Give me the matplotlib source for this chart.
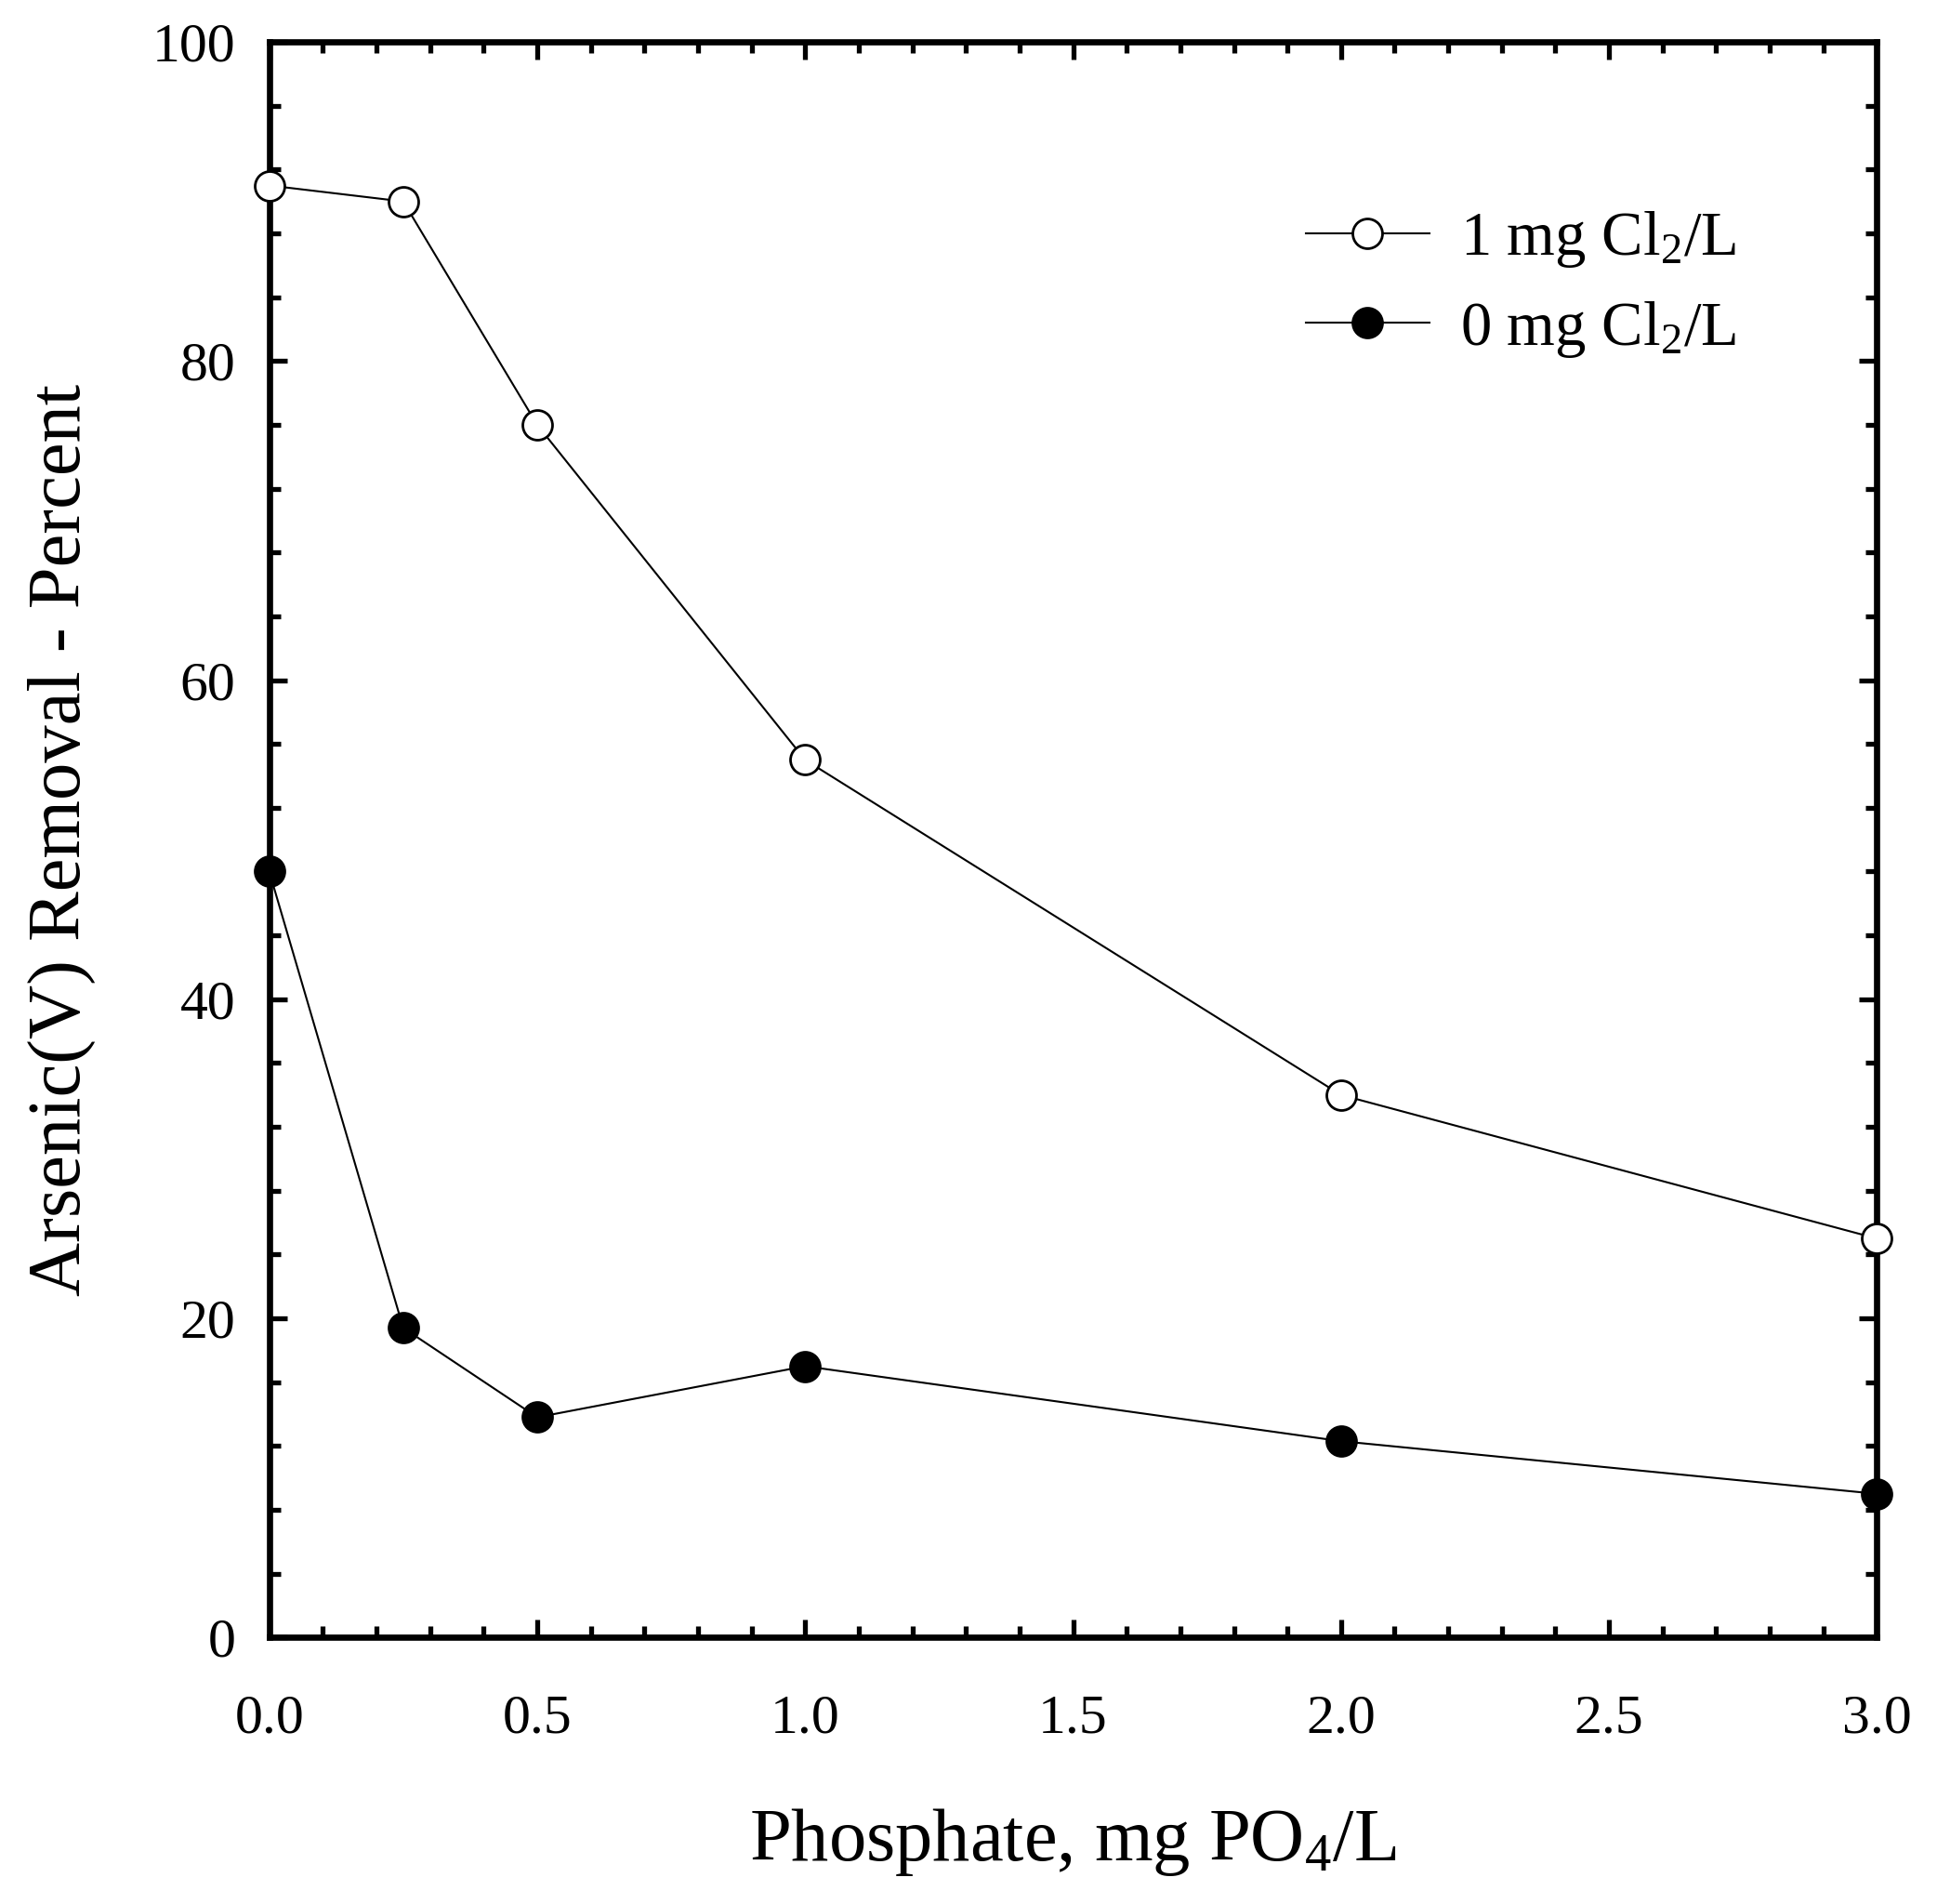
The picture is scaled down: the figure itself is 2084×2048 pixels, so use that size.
import matplotlib
matplotlib.use("Agg")
import matplotlib.pyplot as plt
from matplotlib.ticker import MultipleLocator

plt.rcParams['font.family'] = ['Liberation Serif', 'DejaVu Serif']
plt.rcParams['mathtext.fontset'] = 'custom'
plt.rcParams['mathtext.rm'] = 'Liberation Serif'
plt.rcParams['mathtext.it'] = 'Liberation Serif:italic'

# data
phosphate = [0.0, 0.25, 0.5, 1.0, 2.0, 3.0]
removal_cl1 = [91.0, 90.0, 76.0, 55.0, 34.0, 25.0]
removal_cl0 = [48.0, 19.4, 13.8, 17.0, 12.3, 9.0]
series_labels = ["1 mg Cl$_2$/L", "0 mg Cl$_2$/L"]

fig = plt.figure(figsize=(20.84, 20.48), dpi=100)
ax = fig.add_axes([0.139, 0.140, 0.830, 0.838])

ax.plot(phosphate, removal_cl1, color="black", lw=1.5, marker="o", ms=23,
        mfc="white", mec="black", mew=2, label=series_labels[0], clip_on=False, zorder=3)
ax.plot(phosphate, removal_cl0, color="black", lw=1.5, marker="o", ms=23,
        mfc="black", mec="black", mew=2, label=series_labels[1], clip_on=False, zorder=3)

ax.set_xlim(0, 3)
ax.set_ylim(0, 100)
ax.xaxis.set_major_locator(MultipleLocator(0.5))
ax.xaxis.set_minor_locator(MultipleLocator(0.1))
ax.yaxis.set_major_locator(MultipleLocator(20))
ax.yaxis.set_minor_locator(MultipleLocator(4))
ax.xaxis.set_major_formatter(plt.FormatStrFormatter("%.1f"))

for s in ax.spines.values():
    s.set_linewidth(4.8)

ax.tick_params(which="both", direction="in", top=True, right=True, width=3.8)
ax.tick_params(which="major", length=14)
ax.tick_params(which="minor", length=8.5)
ax.tick_params(axis="x", which="major", labelsize=43, pad=44)
ax.tick_params(axis="y", which="major", labelsize=43, pad=26)

ax.set_xlabel("Phosphate, mg PO$_4$/L", fontsize=58, labelpad=48)
ax.set_ylabel("Arsenic(V) Removal - Percent", fontsize=58, labelpad=44)

ax.legend(loc="upper left", bbox_to_anchor=(0.61, 0.93), frameon=False,
          fontsize=48, handlelength=2.0, handletextpad=0.5, labelspacing=0.47)

fig.savefig("out.png", dpi=100)
